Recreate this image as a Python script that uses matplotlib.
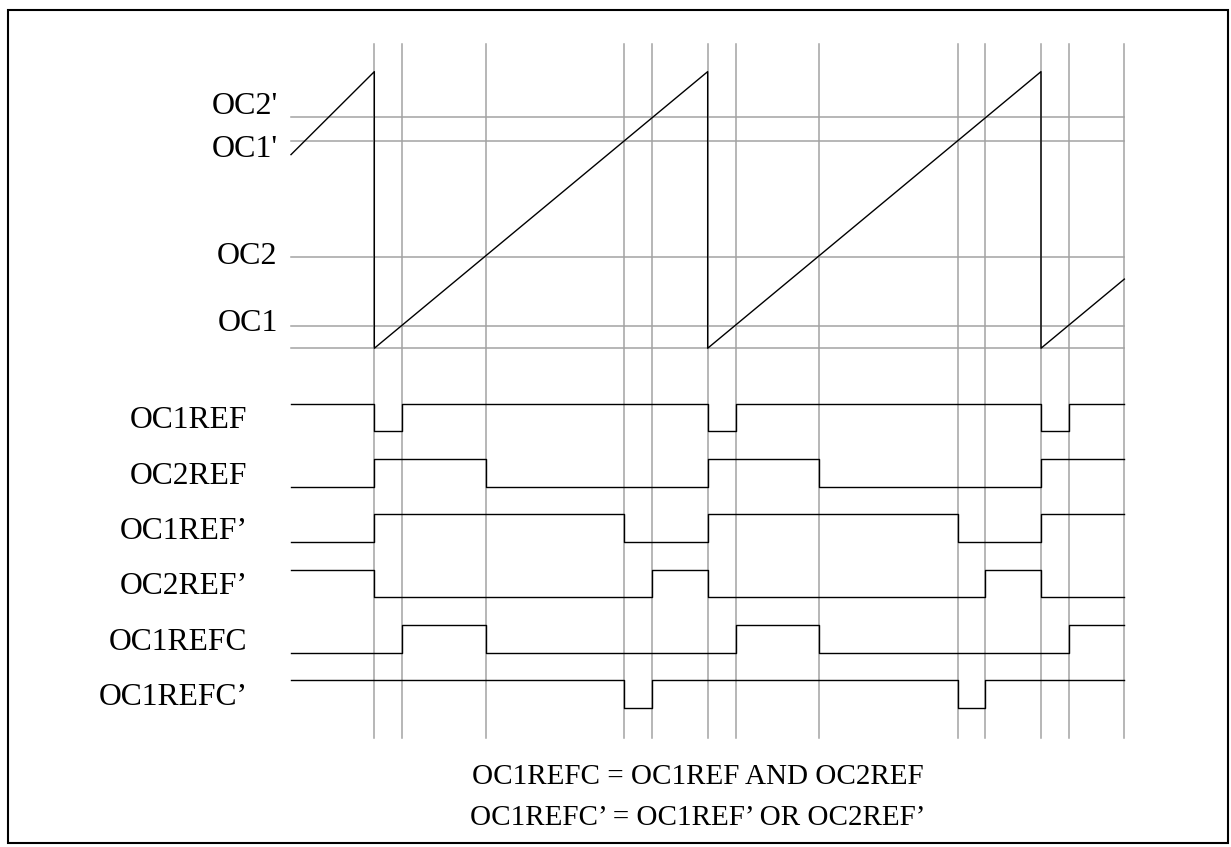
import matplotlib
matplotlib.use("Agg")
import matplotlib.pyplot as plt
from matplotlib.patches import Rectangle

# counter compare levels (counter runs 0..100 per period)
cmp_names = ["OC2'", "OC1'", "OC2", "OC1"]
cmp_levels = [83.5, 75, 33, 8]

# sawtooth counter (time, value)
saw_t = [-25, 0, 0, 100, 100, 200, 200, 225]
saw_v = [70, 100, 0, 100, 0, 100, 0, 25]

# vertical event lines (time)
event_t = [0, 8.4, 33.5, 75, 83.3, 100, 108.4, 133.5, 175, 183.3, 200, 208.4, 225]

t_start, t_end = -25, 225

# digital outputs: initial state + toggle times
sig_names = ["OC1REF", "OC2REF", "OC1REF\u2019", "OC2REF\u2019", "OC1REFC", "OC1REFC\u2019"]
sig_init = [1, 0, 0, 1, 0, 1]
sig_edges = [
    [0, 8.4, 100, 108.4, 200, 208.4],
    [0, 33.5, 100, 133.5, 200],
    [0, 75, 100, 175, 200],
    [0, 83.3, 100, 183.3, 200],
    [8.4, 33.5, 108.4, 133.5, 208.4],
    [75, 83.3, 175, 183.3],
]

formulas = ["OC1REFC = OC1REF AND OC2REF", "OC1REFC\u2019 = OC1REF\u2019 OR OC2REF\u2019"]

grey = "#a3a3a3"
font = "Liberation Serif"

fig = plt.figure(figsize=(12.31, 8.47), dpi=100)
ax = fig.add_axes([0, 0, 1, 1])
ax.set_xlim(-112.3, 257.0)
ax.set_ylim(-180.3, 125.9)
ax.axis("off")

# rows below the counter: high level of row i, swing of 10
row_top, row_pitch, swing = -20, 20, 10

# grid
for t in event_t:
    ax.plot([t, t], [110, -141], color=grey, lw=1.1, zorder=1)
for lv in cmp_levels + [0]:
    ax.plot([t_start, t_end], [lv, lv], color=grey, lw=1.1, zorder=1)

# sawtooth
ax.plot(saw_t, saw_v, color="black", lw=1.0, zorder=3)

# labels for compare levels (two top ones nudged apart)
nudge = {"OC2'": 1.1, "OC1'": -5.8, "OC2": -2.5, "OC1": -1.7}
for name, lv in zip(cmp_names, cmp_levels):
    ax.text(-29, lv + nudge[name], name, ha="right", va="baseline",
            fontsize=23, family=font)

# digital waveforms
for i, (name, init, edges) in enumerate(zip(sig_names, sig_init, sig_edges)):
    hi = row_top - i * row_pitch
    lo = hi - swing
    xs = [t_start] + edges + [t_end]
    state = init
    ys = []
    for _ in xs:
        ys.append(hi if state else lo)
        state = 1 - state
    ys[-1] = ys[-2]
    ax.step(xs, ys, where="post", color="black", lw=1.0, zorder=3)
    ax.text(-38, hi - 9, name, ha="right", va="baseline",
            fontsize=22.8, family=font)

fig.text(0.567, 0.0744, formulas[0], ha="center", va="baseline", fontsize=21, family=font)
fig.text(0.567, 0.026, formulas[1], ha="center", va="baseline", fontsize=21, family=font)

# frame around the whole drawing
fig.patches.append(Rectangle((8 / 1231, 4 / 847), 1220 / 1231, 833 / 847,
                             transform=fig.transFigure, fill=False,
                             edgecolor="black", lw=1.5))

fig.savefig("out.png", dpi=100)
